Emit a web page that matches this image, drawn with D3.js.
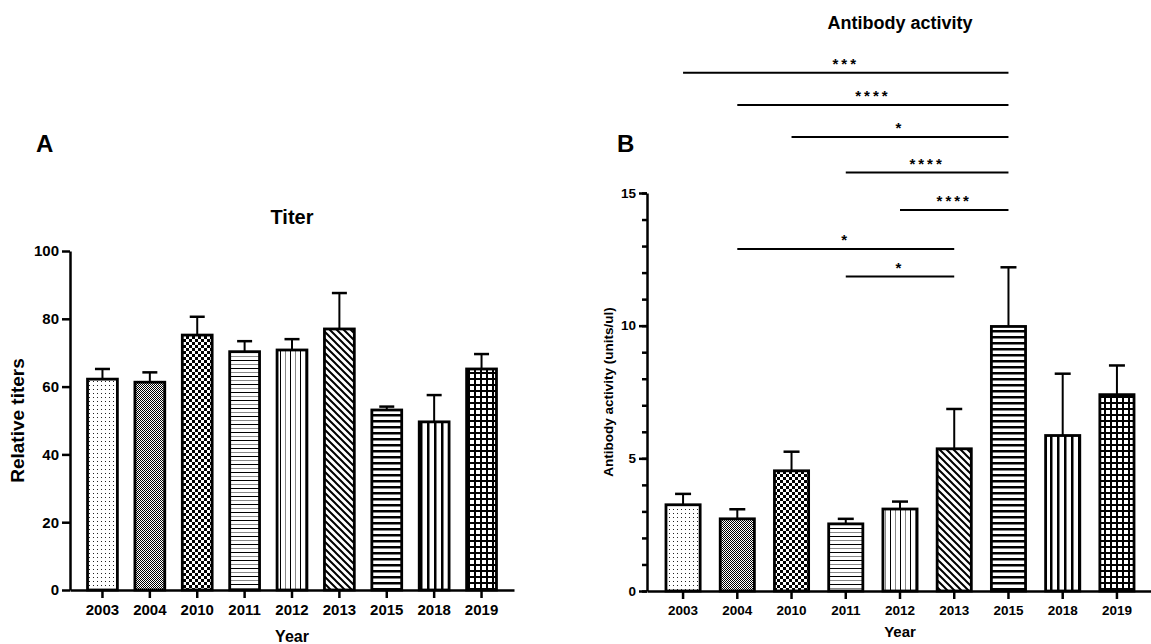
<!DOCTYPE html>
<html lang="en">
<head>
  <meta charset="UTF-8">
  <title>Titer and antibody activity</title>
  <script src="https://d3js.org/d3.v7.min.js"></script>
  <style>
    body { margin: 0; background: #fff; }
    svg { display: block; font-family: Arial, "Liberation Sans", sans-serif; }
    .axis path, .axis line { stroke: #000; }
    .lbl { font-weight: bold; fill: #000; }
  </style>
</head>
<body>
  <svg width="1151" height="644"></svg>

  <script>
    // data
    const years = ['2003', '2004', '2010', '2011', '2012', '2013', '2015', '2018', '2019'];
    const fills = ['dots', 'fineCheck', 'check', 'hThin', 'vThin', 'diag', 'hThick', 'vThick', 'grid'];

    const titerMean = [62.2, 61.3, 75.2, 70.3, 70.8, 77.0, 53.1, 49.6, 65.2];
    const titerErr  = [3.0, 2.9, 5.4, 3.1, 3.2, 10.6, 1.0, 7.9, 4.4];
    const titerTicks = [0, 20, 40, 60, 80, 100];

    const activityMean = [3.25, 2.72, 4.53, 2.53, 3.09, 5.36, 9.97, 5.86, 7.40];
    const activityErr  = [0.41, 0.36, 0.72, 0.19, 0.28, 1.50, 2.23, 2.33, 1.10];
    const activityTicks = [0, 5, 10, 15];

    // significance brackets (level in units/ul on the B scale)
    const bracketFrom  = ['2003', '2004', '2010', '2011', '2012', '2004', '2011'];
    const bracketTo    = ['2015', '2015', '2015', '2015', '2015', '2013', '2013'];
    const bracketLevel = [19.53, 18.32, 17.11, 15.77, 14.36, 12.89, 11.85];
    const bracketStars = ['***', '****', '*', '****', '****', '*', '*'];

    const svg = d3.select('svg');
    const defs = svg.append('defs');

    function pattern(id, w, h, draw) {
      const p = defs.append('pattern').attr('id', id)
        .attr('patternUnits', 'userSpaceOnUse').attr('width', w).attr('height', h);
      p.append('rect').attr('width', w).attr('height', h).attr('fill', '#fff');
      draw(p);
    }
    pattern('dots', 4, 4, p => p.append('rect').attr('x', 1).attr('y', 1).attr('width', 1).attr('height', 1).attr('fill', '#222'));
    pattern('fineCheck', 2, 2, p => {
      p.append('rect').attr('width', 1).attr('height', 1).attr('fill', '#000');
      p.append('rect').attr('x', 1).attr('y', 1).attr('width', 1).attr('height', 1).attr('fill', '#000');
    });
    pattern('check', 6, 6, p => {
      p.append('rect').attr('width', 3).attr('height', 3).attr('fill', '#000');
      p.append('rect').attr('x', 3).attr('y', 3).attr('width', 3).attr('height', 3).attr('fill', '#000');
    });
    pattern('hThin', 8, 8, p => {
      p.append('rect').attr('y', 0).attr('width', 8).attr('height', 1).attr('fill', '#000');
      p.append('rect').attr('y', 4).attr('width', 8).attr('height', 1).attr('fill', '#888');
    });
    pattern('vThin', 10, 8, p => {
      p.append('rect').attr('x', 0).attr('width', 1).attr('height', 8).attr('fill', '#000');
      p.append('rect').attr('x', 5).attr('width', 1).attr('height', 8).attr('fill', '#888');
    });
    pattern('diag', 7, 7, p => {
      p.append('path').attr('d', 'M-1,-1 L8,8 M-1,6 L1,8 M6,-1 L8,1')
        .attr('stroke', '#000').attr('stroke-width', 2);
    });
    pattern('hThick', 8, 6, p => p.append('rect').attr('y', 0).attr('width', 8).attr('height', 2.5).attr('fill', '#000'));
    pattern('vThick', 7, 8, p => p.append('rect').attr('x', 0).attr('width', 2.5).attr('height', 8).attr('fill', '#000'));
    pattern('grid', 6, 6, p => {
      p.append('rect').attr('width', 6).attr('height', 2).attr('fill', '#000');
      p.append('rect').attr('width', 2).attr('height', 6).attr('fill', '#000');
    });

    function panel(cfg) {
      const g = svg.append('g');
      const x = d3.scaleBand().domain(years).range(cfg.xRange).paddingInner(0.37).paddingOuter(cfg.pad);
      const y = d3.scaleLinear().domain([0, cfg.yMax]).range(cfg.yRange);

      // minor ticks
      if (cfg.minor) {
        g.append('g').attr('class', 'axis').attr('transform', `translate(${cfg.xRange[0]},0)`)
          .call(d3.axisLeft(y).tickValues(d3.range(0, cfg.yMax + 1, cfg.minor)).tickSize(5).tickFormat(''))
          .call(a => a.select('.domain').remove())
          .selectAll('line').attr('stroke-width', 2.5);
      }
      // y axis
      const ya = g.append('g').attr('class', 'axis').attr('transform', `translate(${cfg.xRange[0]},0)`)
        .call(d3.axisLeft(y).tickValues(cfg.ticks).tickSize(8).tickSizeOuter(0).tickPadding(3));
      ya.select('.domain').attr('stroke-width', 2.5);
      ya.selectAll('line').attr('stroke-width', 2.5);
      ya.selectAll('text').attr('class', 'lbl').style('font-size', cfg.tickFont + 'px');

      // bars
      const bars = g.append('g').selectAll('g').data(years).join('g');
      bars.append('line')
        .attr('x1', d => x(d) + x.bandwidth() / 2).attr('x2', d => x(d) + x.bandwidth() / 2)
        .attr('y1', (d, i) => y(cfg.mean[i])).attr('y2', (d, i) => y(cfg.mean[i] + cfg.err[i]))
        .attr('stroke', '#000').attr('stroke-width', 2);
      bars.append('line')
        .attr('x1', d => x(d) + x.bandwidth() / 2 - cfg.cap).attr('x2', d => x(d) + x.bandwidth() / 2 + cfg.cap)
        .attr('y1', (d, i) => y(cfg.mean[i] + cfg.err[i])).attr('y2', (d, i) => y(cfg.mean[i] + cfg.err[i]))
        .attr('stroke', '#000').attr('stroke-width', 2.5);
      bars.append('rect')
        .attr('x', d => x(d)).attr('width', x.bandwidth())
        .attr('y', (d, i) => y(cfg.mean[i])).attr('height', (d, i) => y(0) - y(cfg.mean[i]))
        .attr('fill', (d, i) => `url(#${fills[i]})`)
        .attr('stroke', '#000').attr('stroke-width', 2.8);

      // x axis
      const xa = g.append('g').attr('class', 'axis').attr('transform', `translate(0,${y(0)})`)
        .call(d3.axisBottom(x).tickSize(8).tickSizeOuter(0).tickPadding(6));
      xa.select('.domain').attr('stroke-width', 2.5);
      xa.selectAll('line').attr('stroke-width', 2.5);
      xa.selectAll('text').attr('class', 'lbl').style('font-size', cfg.tickFont + 'px');

      // titles
      const cx = (cfg.xRange[0] + cfg.xRange[1]) / 2;
      g.append('text').attr('class', 'lbl').attr('x', cx).attr('y', cfg.titleY)
        .attr('text-anchor', 'middle').style('font-size', cfg.titleFont + 'px').text(cfg.title);
      g.append('text').attr('class', 'lbl').attr('x', cx).attr('y', cfg.xLabelY)
        .attr('text-anchor', 'middle').style('font-size', cfg.labelFont + 'px').text('Year');
      g.append('text').attr('class', 'lbl')
        .attr('transform', `translate(${cfg.yLabelX},${(cfg.yRange[0] + cfg.yRange[1]) / 2}) rotate(-90)`)
        .attr('text-anchor', 'middle').style('font-size', cfg.yLabelFont + 'px').text(cfg.yLabel);
      g.append('text').attr('class', 'lbl').attr('x', cfg.letterX).attr('y', 152)
        .style('font-size', '24px').text(cfg.letter);

      return { x, y, g };
    }

    panel({
      xRange: [70, 514], yRange: [590, 251], yMax: 100, pad: 0.37,
      ticks: titerTicks, mean: titerMean, err: titerErr, cap: 7.5,
      title: 'Titer', titleY: 224, titleFont: 20, labelFont: 16, tickFont: 15,
      xLabelY: 642, yLabel: 'Relative titers', yLabelX: 24, yLabelFont: 19,
      letter: 'A', letterX: 36
    });

    const B = panel({
      xRange: [647, 1153], yRange: [591, 193], yMax: 15, pad: 0.35, minor: 1,
      ticks: activityTicks, mean: activityMean, err: activityErr, cap: 8,
      title: 'Antibody activity', titleY: 29, titleFont: 18, labelFont: 15, tickFont: 13.5,
      xLabelY: 637, yLabel: 'Antibody activity (units/ul)', yLabelX: 613, yLabelFont: 13.5,
      letter: 'B', letterX: 617
    });

    // significance brackets
    const mid = d => B.x(d) + B.x.bandwidth() / 2;
    const br = B.g.append('g').selectAll('g').data(bracketLevel).join('g');
    br.append('line')
      .attr('x1', (d, i) => mid(bracketFrom[i])).attr('x2', (d, i) => mid(bracketTo[i]))
      .attr('y1', d => B.y(d)).attr('y2', d => B.y(d))
      .attr('stroke', '#000').attr('stroke-width', 2);
    br.append('text')
      .attr('x', (d, i) => (mid(bracketFrom[i]) + mid(bracketTo[i])) / 2)
      .attr('y', d => B.y(d) - 4)
      .attr('text-anchor', 'middle')
      .style('font-size', '15px').style('font-weight', 'bold').style('letter-spacing', '3px')
      .text((d, i) => bracketStars[i]);
  </script>
</body>
</html>
